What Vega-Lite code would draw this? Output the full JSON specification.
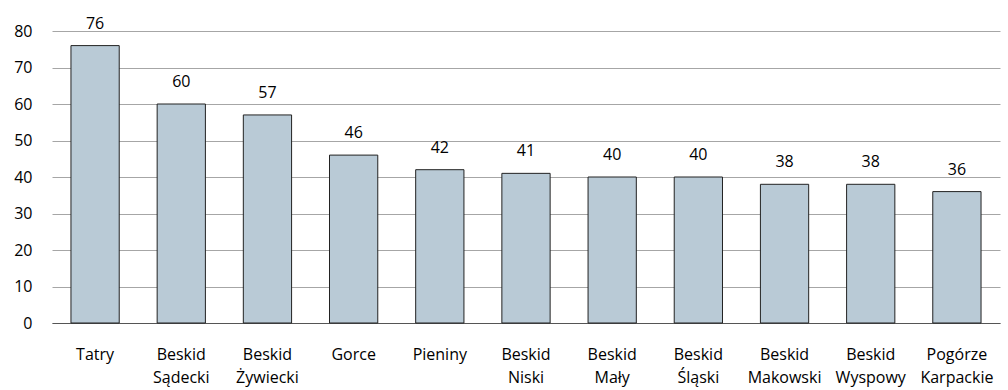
{
  "$schema": "https://vega.github.io/schema/vega-lite/v6.json",
  "width": 948,
  "height": 292,
  "autosize": {"type": "none"},
  "padding": {"left": 52, "top": 31, "right": 8, "bottom": 67},
  "background": "white",
  "config": {"view": {"stroke": null}, "font": "Open Sans"},
  "data": {"values": [
    {"region": "Tatry", "value": 76},
    {"region": "Beskid Sądecki", "value": 60},
    {"region": "Beskid Żywiecki", "value": 57},
    {"region": "Gorce", "value": 46},
    {"region": "Pieniny", "value": 42},
    {"region": "Beskid Niski", "value": 41},
    {"region": "Beskid Mały", "value": 40},
    {"region": "Beskid Śląski", "value": 40},
    {"region": "Beskid Makowski", "value": 38},
    {"region": "Beskid Wyspowy", "value": 38},
    {"region": "Pogórze Karpackie", "value": 36}
  ]},
  "encoding": {
    "x": {"field": "region", "type": "nominal", "sort": null,
      "scale": {"paddingInner": 0.44, "paddingOuter": 0.22},
      "axis": {"title": null, "labelAngle": 0, "ticks": false, "domain": true, "domainColor": "#555555", "domainWidth": 1,
        "labelExpr": "split(datum.label, ' ')", "labelFont": "Open Sans", "labelFontSize": 16, "labelColor": "#000000", "labelPadding": 23, "labelLineHeight": 23, "labelBaseline": "top", "labelOverlap": false}},
    "y": {"field": "value", "type": "quantitative",
      "scale": {"domain": [0, 80], "nice": false},
      "axis": {"title": null, "values": [0,10,20,30,40,50,60,70,80], "domain": false, "ticks": false, "labelOverlap": false,
        "labelFont": "Open Sans", "labelFontSize": 16, "labelColor": "#000000", "labelPadding": 20, "gridColor": "#A6A6A6", "gridWidth": 1}}
  },
  "layer": [
    {"mark": {"type": "bar", "fill": "#B9CAD6", "stroke": "#222222", "strokeWidth": 1}},
    {"mark": {"type": "text", "dy": -22, "fontSize": 16, "color": "#000000", "font": "Open Sans"},
      "encoding": {"text": {"field": "value", "type": "quantitative"}}}
  ]
}
